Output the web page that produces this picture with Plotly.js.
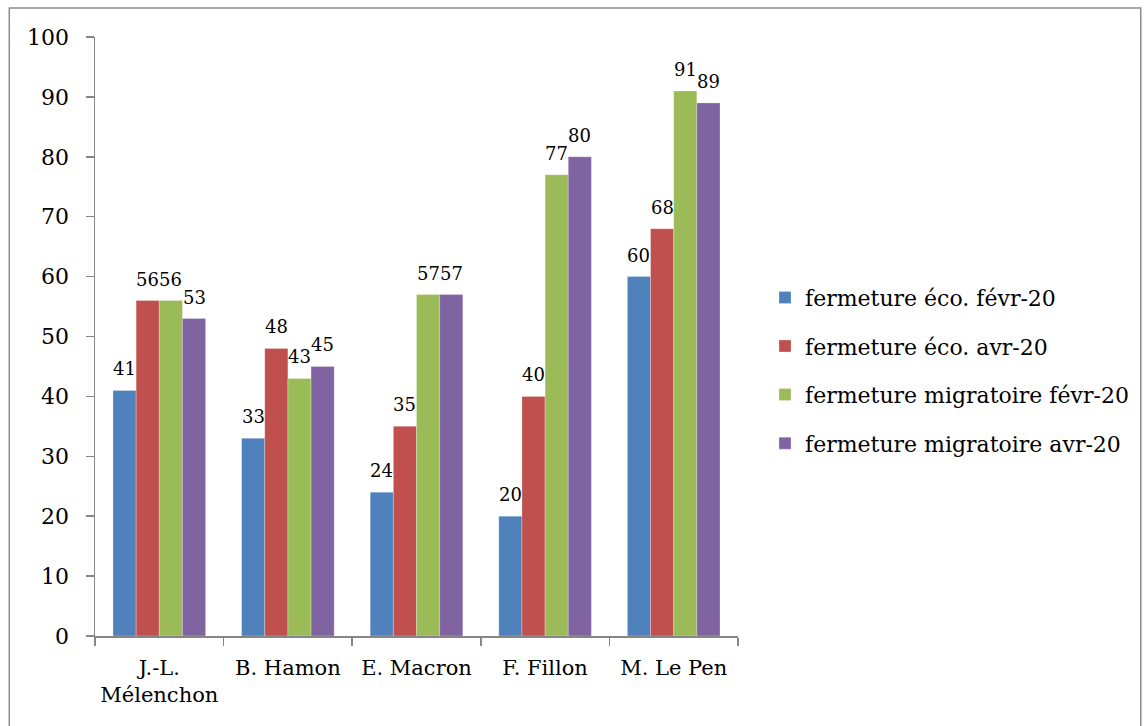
<!DOCTYPE html>
<html><head><meta charset="utf-8">
<script src="https://cdn.plot.ly/plotly-3.0.1.min.js"></script>
<style>body{margin:0;background:#fff}#c{width:1146px;height:726px}</style>
</head><body><div id="c"></div>
<script>
const categories = ["J.-L.<br>Mélenchon", "B. Hamon", "E. Macron", "F. Fillon", "M. Le Pen"];
const seriesNames = ["fermeture éco. févr-20", "fermeture éco. avr-20", "fermeture migratoire févr-20", "fermeture migratoire avr-20"];
const ecoFev = [41, 33, 24, 20, 60];
const ecoAvr = [56, 48, 35, 40, 68];
const migFev = [56, 43, 57, 77, 91];
const migAvr = [53, 45, 57, 80, 89];
const colors = ["#4F81BD", "#C0504D", "#9BBB59", "#8064A2"];
const yTicks = [0,10,20,30,40,50,60,70,80,90,100];

const FONT = "DejaVu Serif, serif";
const W = 1146, H = 726, ML = 95, MR = 406, BARGAP = 0.28;
const series = [ecoFev, ecoAvr, migFev, migAvr];
const bars = series.map((vals, i) => ({
  type: "bar", x: categories, y: vals, name: seriesNames[i],
  marker: {color: colors[i], line: {color: "rgba(255,255,255,0.5)", width: 0.5}},
  hoverinfo: "skip"
}));

// data labels: one per bar, offset to the bar's slot inside its group
const plotW = W - ML - MR;
const barPx = plotW / categories.length * (1 - BARGAP) / series.length;
const annotations = [];
series.forEach((vals, i) => {
  vals.forEach((v, j) => {
    annotations.push({x: categories[j], y: v, xref: "x", yref: "y", text: String(v),
      showarrow: false, yanchor: "bottom", xanchor: "center",
      xshift: (i - (series.length - 1) / 2) * barPx, yshift: 9,
      font: {family: FONT, size: 18, color: "#000"}});
  });
});

const layout = {
  width: W, height: H,
  margin: {l: ML, r: MR, t: 37, b: 90},
  paper_bgcolor: "#fff", plot_bgcolor: "#fff",
  barmode: "group", bargap: BARGAP, bargroupgap: 0,
  font: {family: FONT, color: "#000"},
  showlegend: true,
  legend: {x: 1.042, y: 0.6, xanchor: "left", yanchor: "top",
    font: {family: FONT, size: 22, color: "#000"}, tracegroupgap: 17, itemwidth: 30},
  xaxis: {type: "category", showline: true, linecolor: "#868686", linewidth: 1.5,
    ticks: "outside", tickson: "boundaries", ticklen: 8, tickcolor: "#868686", tickwidth: 1.5,
    tickfont: {family: FONT, size: 21, color: "#000"}, showgrid: false, fixedrange: true,
    ticklabelstandoff: 12},
  yaxis: {range: [0, 100], tickvals: yTicks, ticktext: yTicks.map(String),
    showline: true, linecolor: "#868686", linewidth: 1.5,
    ticks: "outside", ticklen: 8, tickcolor: "#868686", tickwidth: 1.5,
    tickfont: {family: FONT, size: 22, color: "#000"}, showgrid: false, zeroline: false,
    ticklabelstandoff: 12},
  annotations: annotations,
  shapes: [{type: "rect", xref: "paper", yref: "paper",
    x0: -0.1333, x1: 1.6264, y0: -0.2, y1: 1.0484,
    line: {color: "#8c8c8c", width: 1.5}, fillcolor: "rgba(0,0,0,0)", layer: "below"}]
};
bars.forEach((t, i) => t.legendgroup = "g" + i);
Plotly.newPlot("c", bars, layout, {displayModeBar: false, staticPlot: true});
</script></body></html>
